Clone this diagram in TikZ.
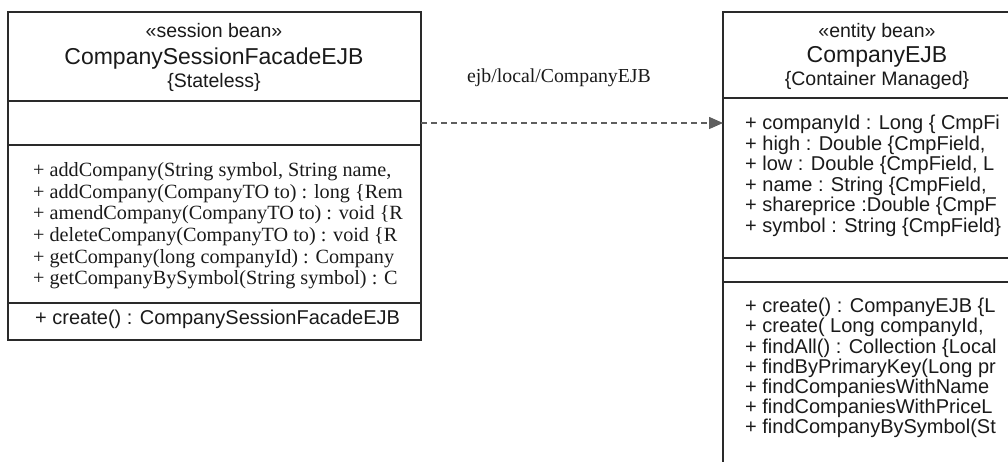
\documentclass[tikz,border=0pt]{standalone}
\usepackage{fontspec}
\setmainfont{Liberation Serif}
\setsansfont{Liberation Sans}
\usetikzlibrary{arrows.meta,positioning}

\definecolor{umlline}{HTML}{2A2A2A}
\definecolor{umltext}{HTML}{1A1A1A}
\definecolor{depline}{HTML}{5E5E5E}

\tikzset{
  comp/.style={draw=umlline, line width=1.7pt, inner sep=0pt, outer sep=0pt, anchor=north},
  line/.style={inner sep=0pt, text height=0.72em, text depth=0.2em, text=umltext},
  opsans/.style={line, anchor=west, font=\sffamily\fontsize{20}{20}\selectfont},
  opserif/.style={line, anchor=west, font=\rmfamily\fontsize{20.2}{20.2}\selectfont},
  stereo/.style={line, font=\sffamily\fontsize{19.5}{19.5}\selectfont},
  classname/.style={line, font=\sffamily\fontsize{23}{23}\selectfont},
  depend/.style={depline, line width=1.4pt, dash pattern=on 6pt off 4pt,
    -{Triangle[length=14pt,width=12pt]}}
}

\begin{document}
\begin{tikzpicture}[x=1pt,y=-1pt]
  \useasboundingbox (0,0) rectangle (1008,462);
  \clip (0,0) rectangle (1008,462);

  % session facade
  \node[comp, minimum width=413pt, minimum height=89pt] (sesshead) at (214.5,12) {};
  \node[comp, minimum width=413pt, minimum height=44pt, below=0pt of sesshead] (sessattr) {};
  \node[comp, minimum width=413pt, minimum height=158pt, below=0pt of sessattr] (sessops) {};
  \node[comp, minimum width=413pt, minimum height=37pt, below=0pt of sessops] (sesshome) {};
  \node[stereo] (sessst) at (214,35) {«session bean»};
  \node[classname] (sessname) at (214,62) {CompanySessionFacadeEJB};
  \node[stereo] (sesscon) at (214,85) {\{Stateless\}};
  \foreach \t [count=\i] in {
      {+ addCompany(String symbol, String name,},
      {+ addCompany(CompanyTO to) : long \{Rem},
      {+ amendCompany(CompanyTO to) : void \{R},
      {+ deleteCompany(CompanyTO to) : void \{R},
      {+ getCompany(long companyId) : Company},
      {+ getCompanyBySymbol(String symbol) : C}}
    \node[opserif] (sessop\i) at (33,174+21.6*\i-21.6) {\t};
  \node[opsans] (sesscreate) at (35,322) {+ create() : CompanySessionFacadeEJB};

  % entity bean
  \node[comp, minimum width=308pt, minimum height=86pt] (enthead) at (877,12) {};
  \node[comp, minimum width=308pt, minimum height=160pt, below=0pt of enthead] (entattr) {};
  \node[comp, minimum width=308pt, minimum height=24pt, below=0pt of entattr] (entempty) {};
  \node[comp, minimum width=308pt, minimum height=220pt, below=0pt of entempty] (entops) {};
  \node[stereo] (entst) at (877,35) {«entity bean»};
  \node[classname] (entname) at (877,60) {CompanyEJB};
  \node[stereo] (entcon) at (877,83) {\{Container Managed\}};
  \foreach \t [count=\i] in {
      {+ companyId : Long \{ CmpFi},
      {+ high : Double \{CmpField,},
      {+ low : Double \{CmpField, L},
      {+ name : String \{CmpField,},
      {+ shareprice :Double \{CmpF},
      {+ symbol : String \{CmpField\}}}
    \node[opsans] (entat\i) at (745,127+20.5*\i-20.5) {\t};
  \foreach \t [count=\i] in {
      {+ create() : CompanyEJB \{L},
      {+ create( Long companyId,},
      {+ findAll() : Collection \{Local},
      {+ findByPrimaryKey(Long pr},
      {+ findCompaniesWithName},
      {+ findCompaniesWithPriceL},
      {+ findCompanyBySymbol(St}}
    \node[opsans] (entop\i) at (745,310+20.2*\i-20.2) {\t};

  % lookup dependency
  \draw[depend] (sessattr.east) -- (sessattr.east -| entattr.west);
  \node[line, font=\rmfamily\fontsize{19.8}{19.8}\selectfont] (jndi) at (559,80) {ejb/local/CompanyEJB};
\end{tikzpicture}
\end{document}
